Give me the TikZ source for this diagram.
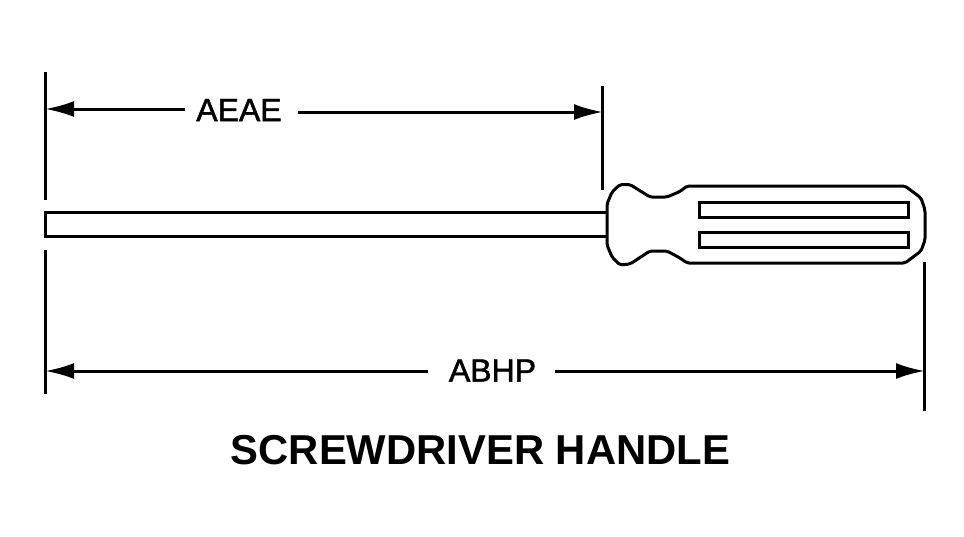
\documentclass[tikz,border=0pt]{standalone}
\usepackage{fontspec}
\setmainfont{Liberation Sans}
\newfontfamily\dimfont[FakeBold=1.5]{Liberation Sans}
\usetikzlibrary{arrows.meta}
\tikzset{
  ink/.style={line width=3pt,black},
  extline/.style={ink},
  dimline/.style={line width=3pt,black,-{Latex[length=29pt,width=16pt]},shorten >=-1pt},
  dimlabel/.style={font=\dimfont\fontsize{32}{32}\selectfont,inner sep=0pt,text=black,anchor=center},
  titlelabel/.style={font=\bfseries\fontsize{41.8}{41.8}\selectfont,inner sep=0pt,text=black,anchor=center},
}
\begin{document}
\begin{tikzpicture}[x=1pt,y=-1pt]
\useasboundingbox (0,0) rectangle (964,536);
% extension lines
\draw[extline] (45.5,72) -- (45.5,200);
\draw[extline] (45.5,250) -- (45.5,394);
\draw[extline] (602,86) -- (602,190);
\draw[extline] (924,262) -- (924,411);
% shaft
\draw[ink] (607,212) -- (45,212) -- (45,236) -- (607,236);
% handle
\draw[ink,rounded corners=2pt,line join=round] (607,212) -- (607,204) -- (612,192) -- (620,184.5) -- (630,184.5)
  -- (650,197) -- (667,197) -- (680,191.5) -- (687,186) -- (905,186) -- (921,198) -- (925,210)
  -- (925,240) -- (921,251) -- (905,263) -- (687,263) -- (680,258) -- (667,251) -- (650,251)
  -- (630,264) -- (620,265) -- (612,257) -- (607,245) -- cycle;
\draw[ink] (699,202) rectangle (908,217);
\draw[ink] (699,232.5) rectangle (908,247.5);
% dimensions
\coordinate (a1) at (46,109);
\coordinate (a2) at (602,112);
\coordinate (a3) at (185,109);
\coordinate (a4) at (298,112);
\coordinate (b1) at (46,371);
\coordinate (b2) at (924,371);
\coordinate (b3) at (428,371);
\coordinate (b4) at (555,371);
\node[dimlabel] (aeae) at (239,110) {AEAE};
\node[dimlabel] (abhp) at (492.5,370.5) {ABHP};
\draw[dimline] (a3) -- (a1);
\draw[dimline] (a4) -- (a2);
\draw[dimline] (b3) -- (b1);
\draw[dimline] (b4) -- (b2);
\node[titlelabel] (title) at (480.5,450) {SCREWDRIVER HANDLE};
\end{tikzpicture}
\end{document}
